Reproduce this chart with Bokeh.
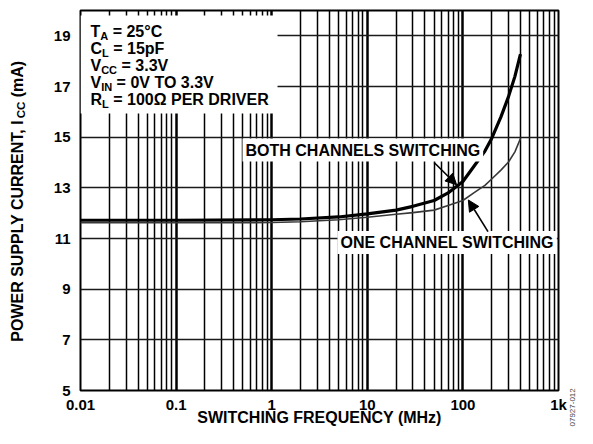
import math
from bokeh.plotting import figure
from bokeh.layouts import row, column
from bokeh.models import Range1d, FixedTicker, Label, BoxAnnotation, Arrow, NormalHead
from bokeh.embed import file_html
from bokeh.resources import INLINE

# ---- data ----
freq_mhz = [0.01, 0.1, 1, 2, 5, 10, 20, 30, 50, 70, 100, 130, 170, 200, 250, 300, 350, 400]
icc_both = [11.72, 11.72, 11.74, 11.77, 11.85, 11.97, 12.12, 12.27, 12.5, 12.8, 13.25, 13.84, 14.45, 14.95, 15.8, 16.6, 17.4, 18.28]
icc_one = [11.62, 11.62, 11.63, 11.66, 11.74, 11.84, 11.96, 12.02, 12.12, 12.3, 12.5, 12.8, 13.1, 13.35, 13.7, 14.02, 14.42, 14.95]

x_major = [0.01, 0.1, 1, 10, 100, 1000]
x_labels = ["0.01", "0.1", "1", "10", "100", "1k"]
x_minor = [m * 10 ** e for e in range(-2, 3) for m in range(2, 10)]
y_ticks = [5, 7, 9, 11, 13, 15, 17, 19]

NB = "\u00a0"
cond_lines = [
    [("T", 0), ("A", 1), (NB + "= 25°C", 0)],
    [("C", 0), ("L", 1), (NB + "= 15pF", 0)],
    [("V", 0), ("CC", 1), (NB + "= 3.3V", 0)],
    [("V", 0), ("IN", 1), (NB + "= 0V TO 3.3V", 0)],
    [("R", 0), ("L", 1), (NB + "= 100Ω PER DRIVER", 0)],
]
y_label_parts = [("POWER SUPPLY CURRENT, I", 0), ("CC", 1), (NB + "(mA)", 0)]
x_title = "SWITCHING FREQUENCY (MHz)"
label_both = "BOTH CHANNELS SWITCHING"
label_one = "ONE CHANNEL SWITCHING"
fig_id = "07927-012"
arrow_both = (50, 14.0, 86, 13.12)
arrow_one = (183, 11.27, 114, 12.52)

FONT = "Liberation Sans"

# Arial/Liberation Sans Bold advance widths (per 1000 em)
W = {" ": 278, NB: 278, ".": 278, ",": 278, "=": 584, "°": 400, "(": 333, ")": 333, "Ω": 768, "-": 333,
     "A": 722, "B": 722, "C": 722, "D": 722, "E": 667, "F": 611, "G": 778, "H": 722, "I": 278,
     "K": 722, "L": 611, "M": 833, "N": 722, "O": 778, "P": 667, "Q": 778, "R": 722, "S": 667,
     "T": 611, "U": 722, "V": 667, "W": 944, "Y": 667, "a": 556, "k": 556, "m": 889, "p": 611, "z": 500}


def tw(s, size):
    return sum(W.get(c, 556) for c in s) * size / 1000.0


def strip(w, h):
    f = figure(width=w, height=h, x_axis_location=None, y_axis_location=None,
               min_border=0, toolbar_location=None, output_backend="svg")
    f.outline_line_color = None
    f.grid.visible = False
    f.background_fill_color = "white"
    f.border_fill_color = "white"
    return f


def add_parts(fig, parts, x, y, size, sub_size, sub_drop, angle=0.0, sub_pull=0.0):
    pos = 0.0
    for txt, sub in parts:
        fs = sub_size if sub else size
        if sub:
            pos -= sub_pull
        if angle == 0:
            lx, ly = x + pos, y - (sub_drop if sub else 0)
        else:
            lx, ly = x + (sub_drop if sub else 0), y + pos
        fig.add_layout(Label(x=lx, y=ly, x_units="screen", y_units="screen", text=txt,
                             angle=angle, text_font=FONT, text_font_style="bold",
                             text_font_size=f"{fs}px", text_color="black",
                             text_align="left", text_baseline="alphabetic"))
        pos += tw(txt, fs)
    return pos


# ---- main plot ----
p = figure(width=531, height=428, x_axis_type="log",
           x_range=Range1d(0.01, 1000), y_range=Range1d(5, 20),
           output_backend="svg", toolbar_location=None,
           min_border_left=44, min_border_right=9, min_border_top=10, min_border_bottom=38)

p.background_fill_color = "white"
p.border_fill_color = "white"
p.outline_line_color = "black"
p.outline_line_width = 2

p.xaxis.ticker = FixedTicker(ticks=x_major, minor_ticks=x_minor)
p.xaxis.major_label_overrides = {v: l for v, l in zip(x_major, x_labels)}
p.yaxis.ticker = FixedTicker(ticks=y_ticks, minor_ticks=[])

for ax in (p.xaxis[0], p.yaxis[0]):
    ax.axis_line_color = None
    ax.major_tick_line_color = None
    ax.minor_tick_line_color = None
    ax.major_tick_out = 0
    ax.major_tick_in = 0
    ax.minor_tick_out = 0
    ax.minor_tick_in = 0
    ax.major_label_text_font = FONT
    ax.major_label_text_font_style = "bold"
    ax.major_label_text_font_size = "15px"
    ax.major_label_text_color = "black"
p.xaxis.major_label_standoff = 5
p.yaxis.major_label_standoff = 10

p.xaxis.axis_label = x_title
p.xaxis.axis_label_text_font = FONT
p.xaxis.axis_label_text_font_style = "bold"
p.xaxis.axis_label_text_font_size = "16px"
p.xaxis.axis_label_text_color = "black"
p.xaxis.axis_label_standoff = -7

p.xgrid.grid_line_color = "black"
p.xgrid.grid_line_width = 2.5
p.xgrid.minor_grid_line_color = "black"
p.xgrid.minor_grid_line_width = 1.5
p.ygrid.ticker = FixedTicker(ticks=y_ticks, minor_ticks=[])
p.ygrid.grid_line_color = "#1a1a1a"
p.ygrid.grid_line_width = 1.5

p.line(freq_mhz, icc_one, line_color="#383838", line_width=1.6, line_join="round")
p.line(freq_mhz, icc_both, line_color="black", line_width=3.2, line_join="round")

# white box behind the test-condition text (screen units from frame bottom-left)
p.add_layout(BoxAnnotation(left=0, right=197, bottom=277, top=375,
                           left_units="screen", right_units="screen",
                           bottom_units="screen", top_units="screen",
                           fill_color="white", fill_alpha=1.0, line_color=None))

baselines = [358.7, 342, 324.7, 307.7, 291]
for parts, b in zip(cond_lines, baselines):
    add_parts(p, parts, 10, b, 16, 11, 4)

for txt, lx, ly in [(label_both, 162, 240.5), (label_one, 257, 148)]:
    p.add_layout(Label(x=lx, y=ly, x_units="screen", y_units="screen", text=txt,
                       text_font=FONT, text_font_style="bold", text_font_size="16px",
                       text_align="left", text_baseline="middle", text_color="black",
                       background_fill_color="white", background_fill_alpha=1.0, padding=3))

for xs, ys, xe, ye in [arrow_both, arrow_one]:
    p.add_layout(Arrow(end=NormalHead(size=11, fill_color="black", line_color="black"),
                       x_start=xs, y_start=ys, x_end=xe, y_end=ye,
                       line_color="black", line_width=1.6))

# ---- y-axis title strip (its frame lines up with the main frame) ----
ylab = strip(36, 428)
ytot = sum(tw(t, 11.5 if s else 16) for t, s in y_label_parts)
add_parts(ylab, y_label_parts, 17, 190 - ytot / 2, 16, 11.5, 3, angle=math.pi / 2, sub_pull=1.5)

# ---- figure-id strip ----
wm = strip(10, 428)
wm.add_layout(Label(x=5, y=2, x_units="screen", y_units="screen", text=fig_id,
                    angle=math.pi / 2, text_font=FONT, text_font_size="8px",
                    text_align="left", text_baseline="middle", text_color="#444444"))

layout = row(ylab, p, column(wm))
open("out.html", "w").write(file_html(layout, INLINE))
